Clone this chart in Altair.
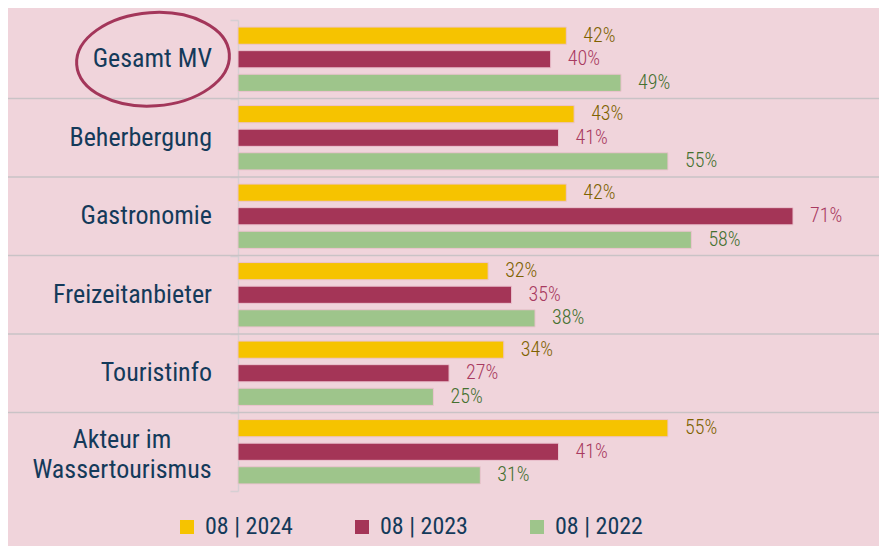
import altair as alt
import pandas as pd

categories = ["Gesamt MV", "Beherbergung", "Gastronomie", "Freizeitanbieter",
              "Touristinfo", "Akteur im Wassertourismus"]
display_labels = ["Gesamt MV", "Beherbergung", "Gastronomie", "Freizeitanbieter",
                  "Touristinfo", "Akteur im\nWassertourismus"]
series = ["08 | 2024", "08 | 2023", "08 | 2022"]
values_2024 = [42, 43, 42, 32, 34, 55]
values_2023 = [40, 41, 71, 35, 27, 41]
values_2022 = [49, 55, 58, 38, 25, 31]

bar_colors = ["#F6C300", "#A43557", "#9EC58B"]
label_colors = ["#7E6200", "#A83A60", "#44702F"]
BG = "#F0D4DB"
NAVY = "#143A5A"
FONT = "Roboto Condensed, Roboto"

rows = []
for s, vals in zip(series, [values_2024, values_2023, values_2022]):
    for c, v in zip(categories, vals):
        rows.append({"category": c, "series": s, "value": v, "label": f"{v}%"})
df = pd.DataFrame(rows)

cat_df = pd.DataFrame({"category": categories, "text": display_labels})
single_df = cat_df[~cat_df["text"].str.contains("\n")]
multi_df = cat_df[cat_df["text"].str.contains("\n")]
sep_df = pd.DataFrame({"category": categories[1:]})
circle_df = pd.DataFrame({"category": [categories[0]]})

W, H = 641, 471

y_enc = alt.Y("category:N", sort=categories,
              scale=alt.Scale(domain=categories, paddingInner=0, paddingOuter=0),
              axis=alt.Axis(title=None, labels=False, grid=False, domain=True,
                            domainColor="#D6CFD3", domainWidth=1.5,
                            ticks=True, tickBand="extent", tickSize=8,
                            tickColor="#D6CFD3", tickWidth=1.5))

bars = alt.Chart(df).mark_bar(stroke="#EBC3CF", strokeWidth=1).encode(
    x=alt.X("value:Q", scale=alt.Scale(domain=[0, 82], nice=False), axis=None),
    y=y_enc,
    yOffset=alt.YOffset("series:N", sort=series,
                        scale=alt.Scale(domain=series, paddingInner=0.27, paddingOuter=0.3)),
    color=alt.Color("series:N", sort=series,
                    scale=alt.Scale(domain=series, range=bar_colors),
                    legend=alt.Legend(title=None, orient="none", direction="horizontal",
                                      legendX=-63, legendY=495, symbolType="square",
                                      symbolSize=196, symbolStrokeWidth=0,
                                      labelFont=FONT, labelFontSize=24, labelColor=NAVY,
                                      labelOffset=6, columnPadding=57, padding=0)),
)

labels = alt.Chart(df).mark_text(align="left", baseline="middle", dx=17,
                                 font=FONT, fontSize=20, fontWeight=300).encode(
    x=alt.X("value:Q"),
    y=alt.Y("category:N", sort=categories),
    yOffset=alt.YOffset("series:N", sort=series),
    text="label:N",
    color=alt.Color("series:N", sort=series,
                    scale=alt.Scale(domain=series, range=label_colors), legend=None),
)

seps = alt.Chart(sep_df).mark_rule(color="#C9C3C6", strokeWidth=1.5).encode(
    y=alt.Y("category:N", sort=categories, bandPosition=0),
    x=alt.value(-231),
    x2=alt.value(W),
)

cat_single = alt.Chart(single_df).mark_text(
    align="right", baseline="middle", font=FONT, fontSize=26, color=NAVY
).encode(y=alt.Y("category:N", sort=categories), x=alt.value(-26), text="text:N")

cat_multi = alt.Chart(multi_df).mark_text(
    align="center", baseline="middle", font=FONT, fontSize=26, color=NAVY,
    lineBreak="\n", lineHeight=30, dy=-12
).encode(y=alt.Y("category:N", sort=categories), x=alt.value(-116), text="text:N")

ellipse = alt.Chart(circle_df).mark_point(
    shape="M -1 0 A 1 0.61 0 1 0 1 0 A 1 0.61 0 1 0 -1 0 Z",
    size=23409, filled=False, stroke="#A3365A", strokeWidth=3, opacity=1, angle=356
).encode(y=alt.Y("category:N", sort=categories), x=alt.value(-85))

chart = alt.layer(seps, bars, labels, cat_single, cat_multi, ellipse).resolve_scale(
    color="independent"
).properties(
    width=W, height=H,
    background=BG,
    autosize=alt.AutoSizeParams(type="none"),
    padding={"left": 230, "top": 12, "right": 0, "bottom": 55},
).configure_view(stroke=None)

chart.save("out.html", embed_options={"renderer": "svg", "actions": False})
